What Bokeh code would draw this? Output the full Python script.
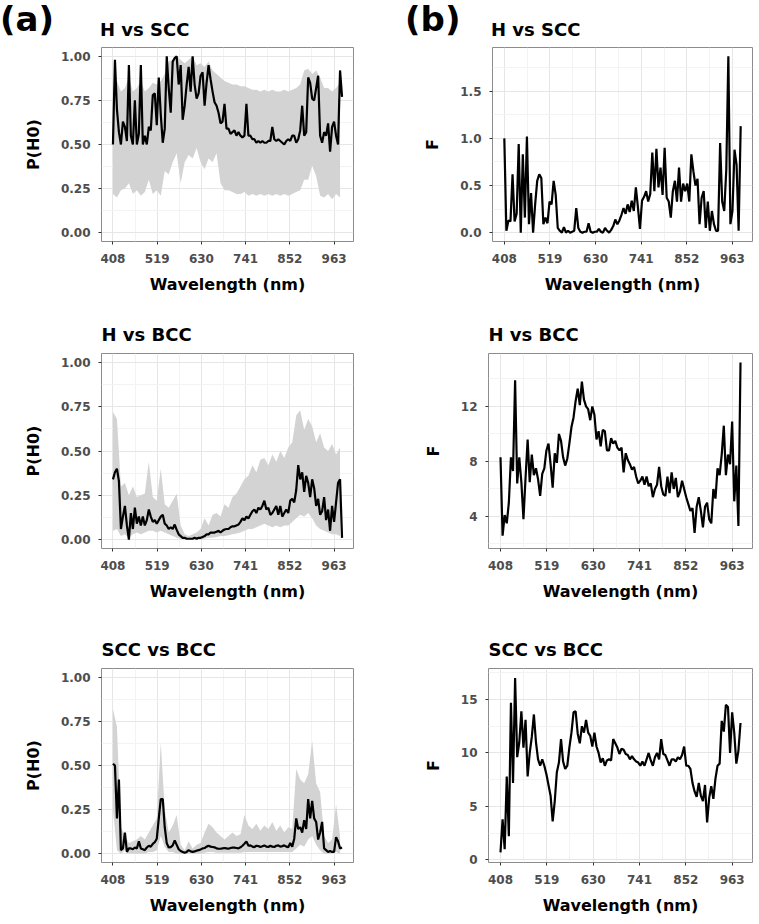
from bokeh.plotting import figure
from bokeh.layouts import column, row
from bokeh.models import Range1d, FixedTicker, NumeralTickFormatter, Div
from bokeh.embed import file_html
from bokeh.resources import INLINE

# ---------------- data ----------------
WAVELENGTH = [
    408, 413, 418, 423, 428, 433, 438, 443, 448, 453,
    458, 463, 468, 473, 478, 483, 488, 493, 498, 503,
    508, 513, 518, 523, 528, 533, 538, 543, 548, 553,
    558, 563, 568, 573, 578, 583, 588, 593, 598, 603,
    608, 613, 618, 623, 628, 633, 638, 643, 648, 653,
    658, 663, 668, 673, 678, 683, 688, 693, 698, 703,
    708, 713, 718, 723, 728, 733, 738, 743, 748, 753,
    758, 763, 768, 773, 778, 783, 788, 793, 798, 803,
    808, 813, 818, 823, 828, 833, 838, 843, 848, 853,
    858, 863, 868, 873, 878, 883, 888, 893, 898, 903,
    908, 913, 918, 923, 928, 933, 938, 943, 948, 953,
    958, 963, 968, 973, 978, 983]

RIBBON_WAVELENGTH = [
    408, 418, 428, 438, 448, 458, 468, 478, 488, 498,
    508, 518, 528, 538, 548, 558, 568, 578, 588, 598,
    608, 618, 628, 638, 648, 658, 668, 678, 688, 698,
    708, 718, 728, 738, 748, 758, 768, 778, 788, 798,
    808, 818, 828, 838, 848, 858, 868, 878, 888, 898,
    908, 918, 928, 938, 948, 958, 968, 978]

X_TICKS = [408, 519, 630, 741, 852, 963]
X_MINOR = [463.5, 574.5, 685.5, 796.5, 907.5]

P_TICKS = [0.0, 0.25, 0.5, 0.75, 1.0]
P_MINOR = [0.125, 0.375, 0.625, 0.875]

PANEL_TAGS = ["(a)", "(b)"]
TITLES = ["H vs SCC", "H vs BCC", "SCC vs BCC"]

# (a) P(H0)  H vs SCC
P_H_SCC = [
    0.50, 0.98, 0.70, 0.57, 0.50, 0.63, 0.60, 0.52, 0.95, 0.55,
    0.50, 0.75, 0.50, 0.56, 0.95, 0.50, 0.55, 0.50, 0.60, 0.58,
    0.78, 0.79, 0.61, 0.88, 0.67, 0.51, 0.59, 1.00, 0.82, 0.68,
    0.97, 0.99, 1.00, 0.84, 0.95, 0.64, 0.72, 0.84, 0.94, 0.80,
    1.00, 0.84, 0.76, 0.79, 0.89, 0.91, 0.72, 0.85, 0.95, 0.87,
    0.80, 0.74, 0.72, 0.68, 0.62, 0.63, 0.73, 0.59, 0.59, 0.56,
    0.57, 0.58, 0.55, 0.57, 0.55, 0.54, 0.55, 0.73, 0.55, 0.55,
    0.53, 0.53, 0.51, 0.52, 0.51, 0.52, 0.51, 0.51, 0.52, 0.52,
    0.60, 0.53, 0.52, 0.53, 0.52, 0.51, 0.50, 0.52, 0.53, 0.52,
    0.55, 0.55, 0.51, 0.53, 0.58, 0.72, 0.55, 0.57, 0.88, 0.85,
    0.76, 0.75, 0.82, 0.89, 0.55, 0.51, 0.57, 0.55, 0.62, 0.46,
    0.60, 0.63, 0.55, 0.50, 0.92, 0.77]
P_H_SCC_LOW = [
    0.22, 0.20, 0.24, 0.25, 0.28, 0.22, 0.24, 0.21, 0.23, 0.30,
    0.22, 0.24, 0.21, 0.35, 0.33, 0.40, 0.45, 0.28, 0.40, 0.44,
    0.42, 0.48, 0.40, 0.36, 0.42, 0.40, 0.45, 0.28, 0.24, 0.24,
    0.23, 0.22, 0.22, 0.23, 0.21, 0.22, 0.21, 0.22, 0.21, 0.22,
    0.21, 0.22, 0.21, 0.22, 0.21, 0.22, 0.23, 0.24, 0.30, 0.30,
    0.38, 0.32, 0.21, 0.20, 0.22, 0.19, 0.22, 0.20]
P_H_SCC_HIGH = [
    0.82, 0.86, 0.80, 0.82, 0.88, 0.80, 0.82, 0.86, 0.80, 0.82,
    0.85, 0.84, 0.86, 0.90, 0.97, 0.98, 1.00, 0.98, 0.96, 0.98,
    1.00, 0.95, 0.96, 0.94, 0.97, 0.92, 0.90, 0.88, 0.86, 0.85,
    0.84, 0.84, 0.83, 0.83, 0.82, 0.81, 0.81, 0.80, 0.81, 0.80,
    0.81, 0.80, 0.80, 0.81, 0.80, 0.81, 0.82, 0.84, 0.92, 0.93,
    0.90, 0.92, 0.88, 0.82, 0.82, 0.80, 0.82, 0.85]

# (a) P(H0)  H vs BCC
P_H_BCC = [
    0.34, 0.38, 0.40, 0.33, 0.06, 0.13, 0.19, 0.08, 0.00, 0.15,
    0.06, 0.18, 0.09, 0.13, 0.08, 0.13, 0.08, 0.11, 0.17, 0.13,
    0.10, 0.11, 0.09, 0.11, 0.13, 0.14, 0.09, 0.08, 0.06, 0.07,
    0.06, 0.085, 0.055, 0.03, 0.02, 0.01, 0.01, 0.005, 0.005, 0.005,
    0.005, 0.01, 0.005, 0.01, 0.01, 0.015, 0.02, 0.03, 0.03, 0.04,
    0.04, 0.04, 0.045, 0.05, 0.04, 0.05, 0.057, 0.06, 0.06, 0.07,
    0.075, 0.075, 0.08, 0.085, 0.10, 0.12, 0.11, 0.13, 0.12, 0.14,
    0.16, 0.17, 0.15, 0.18, 0.17, 0.19, 0.22, 0.17, 0.18, 0.14,
    0.15, 0.17, 0.19, 0.14, 0.19, 0.13, 0.15, 0.17, 0.15, 0.22,
    0.23, 0.21, 0.28, 0.42, 0.34, 0.38, 0.27, 0.36, 0.32, 0.24,
    0.34, 0.29, 0.19, 0.23, 0.14, 0.16, 0.24, 0.11, 0.17, 0.05,
    0.19, 0.10, 0.21, 0.32, 0.34, 0.01]
P_H_BCC_LOW = [
    0.05, 0.06, 0.02, 0.03, 0.01, 0.03, 0.04, 0.03, 0.04, 0.05,
    0.05, 0.04, 0.05, 0.04, 0.03, 0.02, 0.01, 0.005, 0.0, 0.0,
    0.0, 0.0, 0.0, 0.005, 0.01, 0.01, 0.015, 0.02, 0.02, 0.025,
    0.03, 0.035, 0.04, 0.05, 0.06, 0.06, 0.07, 0.08, 0.09, 0.08,
    0.07, 0.08, 0.07, 0.08, 0.08, 0.10, 0.12, 0.14, 0.13, 0.15,
    0.12, 0.08, 0.06, 0.05, 0.04, 0.03, 0.03, 0.02]
P_H_BCC_HIGH = [
    0.72, 0.68, 0.30, 0.32, 0.25, 0.30, 0.24, 0.25, 0.26, 0.44,
    0.24, 0.22, 0.40, 0.20, 0.18, 0.22, 0.26, 0.08, 0.03, 0.02,
    0.03, 0.04, 0.06, 0.12, 0.08, 0.14, 0.15, 0.13, 0.20, 0.18,
    0.24, 0.26, 0.30, 0.34, 0.36, 0.42, 0.38, 0.45, 0.46, 0.42,
    0.48, 0.44, 0.50, 0.46, 0.52, 0.55, 0.70, 0.73, 0.62, 0.68,
    0.64, 0.55, 0.60, 0.52, 0.50, 0.54, 0.48, 0.52]

# (a) P(H0)  SCC vs BCC
P_SCC_BCC = [
    0.51, 0.50, 0.20, 0.42, 0.02, 0.03, 0.12, 0.01, 0.03, 0.03,
    0.025, 0.035, 0.03, 0.07, 0.03, 0.025, 0.02, 0.035, 0.045, 0.04,
    0.056, 0.065, 0.085, 0.20, 0.31, 0.31, 0.15, 0.06, 0.035, 0.037,
    0.047, 0.075, 0.05, 0.025, 0.015, 0.01, 0.005, 0.01, 0.02, 0.013,
    0.01, 0.013, 0.017, 0.02, 0.024, 0.03, 0.032, 0.04, 0.045, 0.04,
    0.038, 0.036, 0.03, 0.028, 0.028, 0.03, 0.032, 0.03, 0.028, 0.032,
    0.034, 0.034, 0.032, 0.03, 0.036, 0.045, 0.056, 0.07, 0.045, 0.047,
    0.04, 0.037, 0.045, 0.043, 0.038, 0.042, 0.047, 0.04, 0.038, 0.045,
    0.04, 0.038, 0.045, 0.047, 0.04, 0.043, 0.047, 0.04, 0.037, 0.06,
    0.04, 0.085, 0.20, 0.14, 0.15, 0.12, 0.19, 0.14, 0.31, 0.20,
    0.30, 0.20, 0.18, 0.08, 0.12, 0.18, 0.03, 0.02, 0.01, 0.015,
    0.01, 0.01, 0.094, 0.07, 0.03, 0.035]
P_SCC_BCC_LOW = [
    0.25, 0.02, 0.0, 0.02, 0.0, 0.0, 0.0, 0.0, 0.0, 0.01,
    0.01, 0.02, 0.10, 0.04, 0.01, 0.01, 0.0, 0.0, 0.0, 0.0,
    0.0, 0.0, 0.0, 0.005, 0.01, 0.01, 0.005, 0.005, 0.005, 0.005,
    0.005, 0.005, 0.005, 0.01, 0.01, 0.01, 0.01, 0.01, 0.01, 0.01,
    0.01, 0.01, 0.01, 0.01, 0.01, 0.01, 0.03, 0.05, 0.04, 0.08,
    0.10, 0.05, 0.02, 0.0, 0.0, 0.0, 0.01, 0.0]
P_SCC_BCC_HIGH = [
    0.82, 0.72, 0.15, 0.10, 0.06, 0.07, 0.08, 0.10, 0.08, 0.12,
    0.16, 0.20, 0.63, 0.25, 0.12, 0.16, 0.22, 0.05, 0.02, 0.07,
    0.03, 0.05, 0.06, 0.12, 0.17, 0.15, 0.12, 0.10, 0.08, 0.10,
    0.12, 0.10, 0.11, 0.22, 0.16, 0.14, 0.17, 0.13, 0.16, 0.14,
    0.18, 0.13, 0.16, 0.12, 0.15, 0.14, 0.48, 0.42, 0.40, 0.45,
    0.64, 0.40, 0.35, 0.10, 0.06, 0.08, 0.28, 0.10]

# (b) F statistic  H vs SCC
F_H_SCC = [
    1.00, 0.02, 0.13, 0.12, 0.62, 0.12, 0.20, 0.94, 0.00, 0.83,
    0.16, 1.02, 0.09, 0.42, 0.00, 0.30, 0.55, 0.62, 0.58, 0.09,
    0.16, 0.10, 0.33, 0.30, 0.55, 0.40, 0.05, 0.02, 0.00, 0.06,
    0.00, 0.02, 0.00, 0.01, 0.02, 0.26, 0.05, 0.01, 0.00, 0.01,
    0.01, 0.10, 0.01, 0.00, 0.01, 0.01, 0.04, 0.01, 0.00, 0.05,
    0.02, 0.00, 0.03, 0.07, 0.14, 0.09, 0.13, 0.19, 0.26, 0.20,
    0.30, 0.22, 0.34, 0.23, 0.48, 0.27, 0.04, 0.34, 0.38, 0.44,
    0.33, 0.41, 0.85, 0.44, 0.89, 0.48, 0.69, 0.40, 0.90, 0.37,
    0.33, 0.16, 0.44, 0.55, 0.33, 0.69, 0.33, 0.52, 0.44, 0.52,
    0.33, 0.83, 0.65, 0.50, 0.57, 0.09, 0.37, 0.44, 0.05, 0.33,
    0.02, 0.23, 0.09, 0.02, 0.02, 0.95, 0.33, 0.23, 0.67, 1.87,
    0.09, 0.23, 0.88, 0.72, 0.02, 1.13]

# (b) F statistic  H vs BCC
F_H_BCC = [
    8.3, 2.6, 4.1, 3.5, 5.0, 8.3, 7.3, 13.9, 6.4, 8.3,
    6.5, 3.8, 6.8, 9.6, 6.5, 8.5, 7.0, 7.5, 6.7, 5.5,
    7.1, 7.5, 8.8, 9.3, 7.8, 6.1, 8.6, 7.9, 10.0, 9.5,
    8.3, 7.7, 8.2, 9.3, 10.5, 11.2, 12.4, 13.3, 12.1, 13.8,
    12.5, 12.0, 11.8, 11.0, 12.0, 11.4, 9.6, 10.2, 9.1, 10.3,
    10.2, 8.8, 8.8, 9.7, 9.3, 9.5, 9.0, 8.8, 9.0, 7.2,
    8.6, 8.1, 7.8, 7.4, 7.6, 6.9, 6.4, 6.6, 6.9, 6.3,
    6.9, 6.2, 6.4, 5.4, 6.0, 6.3, 7.6, 6.2, 5.6, 5.5,
    6.9, 5.7, 7.2, 6.0, 6.8, 5.4, 5.8, 6.6, 6.0, 5.4,
    4.9, 4.4, 4.6, 2.8, 4.7, 5.4, 4.4, 3.2, 4.7, 5.0,
    3.8, 3.5, 6.0, 5.3, 7.5, 7.0, 8.5, 10.6, 7.0, 8.5,
    7.8, 10.9, 5.1, 7.7, 3.3, 15.2]

# (b) F statistic  SCC vs BCC
F_SCC_BCC = [
    0.7, 3.8, 1.0, 7.8, 2.2, 14.7, 7.2, 17.0, 9.6, 11.0,
    13.9, 10.5, 13.1, 7.8, 10.0, 11.5, 13.6, 11.0, 9.4, 8.8,
    9.4, 8.8, 8.0, 7.0, 6.0, 3.6, 5.5, 8.2, 9.1, 11.3,
    9.2, 8.5, 8.8, 10.5, 11.9, 13.8, 13.9, 11.8, 10.9, 12.5,
    11.9, 13.1, 11.9, 11.6, 10.6, 11.9, 10.6, 10.0, 9.1, 9.5,
    8.8, 9.3, 9.4, 9.3, 11.3, 10.9, 10.5, 9.9, 10.4, 10.3,
    9.9, 9.8, 9.4, 9.7, 9.4, 9.2, 9.1, 8.8, 9.2, 8.8,
    9.4, 10.0, 9.3, 8.8, 9.6, 10.0, 9.4, 11.3, 9.9, 9.8,
    9.3, 8.8, 9.4, 9.4, 9.2, 9.6, 9.4, 9.8, 10.6, 8.8,
    8.8, 8.5, 7.2, 6.4, 5.9, 7.2, 6.0, 5.5, 7.0, 3.5,
    5.8, 6.9, 5.7, 7.6, 8.8, 9.0, 13.0, 12.0, 14.5, 14.3,
    10.0, 13.8, 11.9, 9.0, 10.2, 12.8]

F1_TICKS = [0.0, 0.5, 1.0, 1.5]
F1_MINOR = [0.25, 0.75, 1.25, 1.75]
F2_TICKS = [4, 8, 12]
F2_MINOR = [2, 6, 10, 14]
F3_TICKS = [0, 5, 10, 15]
F3_MINOR = [2.5, 7.5, 12.5, 17.5]

# ---------------- styling ----------------
FONT = "DejaVu Sans"
X_RANGE = (379.25, 1011.75)
HEADER_H = 40


def panel(title, ylabel, yrange, yticks, yminor, yfmt,
          left, top, frame_w, frame_h, right, bottom):
    kw = {}
    if title is None:
        kw["title_location"] = None
    p = figure(frame_width=frame_w, frame_height=frame_h,
               min_border_left=left, min_border_right=right,
               min_border_top=top, min_border_bottom=bottom,
               x_range=Range1d(*X_RANGE), y_range=Range1d(*yrange),
               output_backend="svg", toolbar_location=None,
               background_fill_color="white", border_fill_color="white", **kw)
    if title is not None:
        p.title.text = title
        p.title.align = "left"
        p.title.text_font = FONT
        p.title.text_font_style = "bold"
        p.title.text_font_size = "18px"
        p.title.text_color = "black"
        p.title.standoff = 18
    p.outline_line_color = "#8C8C8C"
    p.outline_line_width = 1

    p.xaxis.ticker = FixedTicker(ticks=X_TICKS, minor_ticks=X_MINOR)
    p.yaxis.ticker = FixedTicker(ticks=yticks, minor_ticks=yminor)
    p.yaxis.formatter = NumeralTickFormatter(format=yfmt)
    p.xaxis.axis_label = "Wavelength (nm)"
    p.yaxis.axis_label = ylabel
    for ax in (p.xaxis[0], p.yaxis[0]):
        ax.axis_line_color = None
        ax.major_tick_line_color = "#333333"
        ax.major_tick_in = 0
        ax.major_tick_out = 3
        ax.minor_tick_line_color = None
        ax.major_label_text_font = FONT
        ax.major_label_text_font_style = "bold"
        ax.major_label_text_font_size = "12px"
        ax.major_label_text_color = "#4D4D4D"
        ax.axis_label_text_font = FONT
        ax.axis_label_text_font_style = "bold"
        ax.axis_label_text_font_size = "16px"
        ax.axis_label_text_color = "black"
    p.xaxis.major_label_standoff = 8
    p.yaxis.major_label_standoff = 7
    p.xaxis.axis_label_standoff = 9
    p.yaxis.axis_label_standoff = 15

    for g in (p.xgrid[0], p.ygrid[0]):
        g.grid_line_color = "#E6E6E6"
        g.grid_line_width = 1
        g.minor_grid_line_color = "#F3F3F3"
        g.minor_grid_line_width = 1
    return p


def span(text, left, top, size):
    return (f'<span style="position:absolute;left:{left}px;top:{top}px;'
            f'font-size:{size}px;line-height:1.17;white-space:nowrap">{text}</span>')


# header strip (page y 0-40): panel tags and first-row titles
header_html = (
    f'<div style="position:relative;width:758px;height:{HEADER_H}px;'
    f"font-family:'{FONT}';font-weight:bold;color:black\">"
    + span(PANEL_TAGS[0], 0, 0, 34)
    + span(TITLES[0], 100, 19, 18)
    + span(PANEL_TAGS[1], 405, 0, 34)
    + span(TITLES[0], 491, 19, 18)
    + "</div>")
header = Div(text=header_html, width=758, height=HEADER_H, margin=0)

LINE = dict(line_color="black", line_width=2.2)
RIBBON = dict(fill_color="#D3D3D3", fill_alpha=1.0)

# row 1  (page y 40-300)
a1 = panel(None, "P(H0)", (-0.05, 1.05), P_TICKS, P_MINOR, "0.00",
           101, 7, 252, 194, 27, 59)
a1.varea(x=RIBBON_WAVELENGTH, y1=P_H_SCC_LOW, y2=P_H_SCC_HIGH, **RIBBON)
a1.line(WAVELENGTH, P_H_SCC, **LINE)

b1 = panel(None, "F", (-0.0935, 1.9635), F1_TICKS, F1_MINOR, "0.0",
           112, 7, 260, 194, 6, 59)
b1.line(WAVELENGTH, F_H_SCC, **LINE)

# row 2  (page y 300-610)
a2 = panel(TITLES[1], "P(H0)", (-0.05, 1.05), P_TICKS, P_MINOR, "0.00",
           101, 53, 252, 195, 27, 62)
a2.varea(x=RIBBON_WAVELENGTH, y1=P_H_BCC_LOW, y2=P_H_BCC_HIGH, **RIBBON)
a2.line(WAVELENGTH, P_H_BCC, **LINE)

b2 = panel(TITLES[1], "F", (1.67, 15.85), F2_TICKS, F2_MINOR, "0",
           108, 53, 264, 195, 6, 62)
b2.line(WAVELENGTH, F_H_BCC, **LINE)

# row 3  (page y 610-922)
a3 = panel(TITLES[2], "P(H0)", (-0.05, 1.05), P_TICKS, P_MINOR, "0.00",
           101, 58, 252, 194, 27, 60)
a3.varea(x=RIBBON_WAVELENGTH, y1=P_SCC_BCC_LOW, y2=P_SCC_BCC_HIGH, **RIBBON)
a3.line(WAVELENGTH, P_SCC_BCC, **LINE)

b3 = panel(TITLES[2], "F", (-0.25, 17.9), F3_TICKS, F3_MINOR, "0",
           108, 58, 264, 194, 6, 60)
b3.line(WAVELENGTH, F_SCC_BCC, **LINE)

layout = column(header, row(a1, b1), row(a2, b2), row(a3, b3))

with open("out.html", "w") as f:
    f.write(file_html(layout, INLINE))
